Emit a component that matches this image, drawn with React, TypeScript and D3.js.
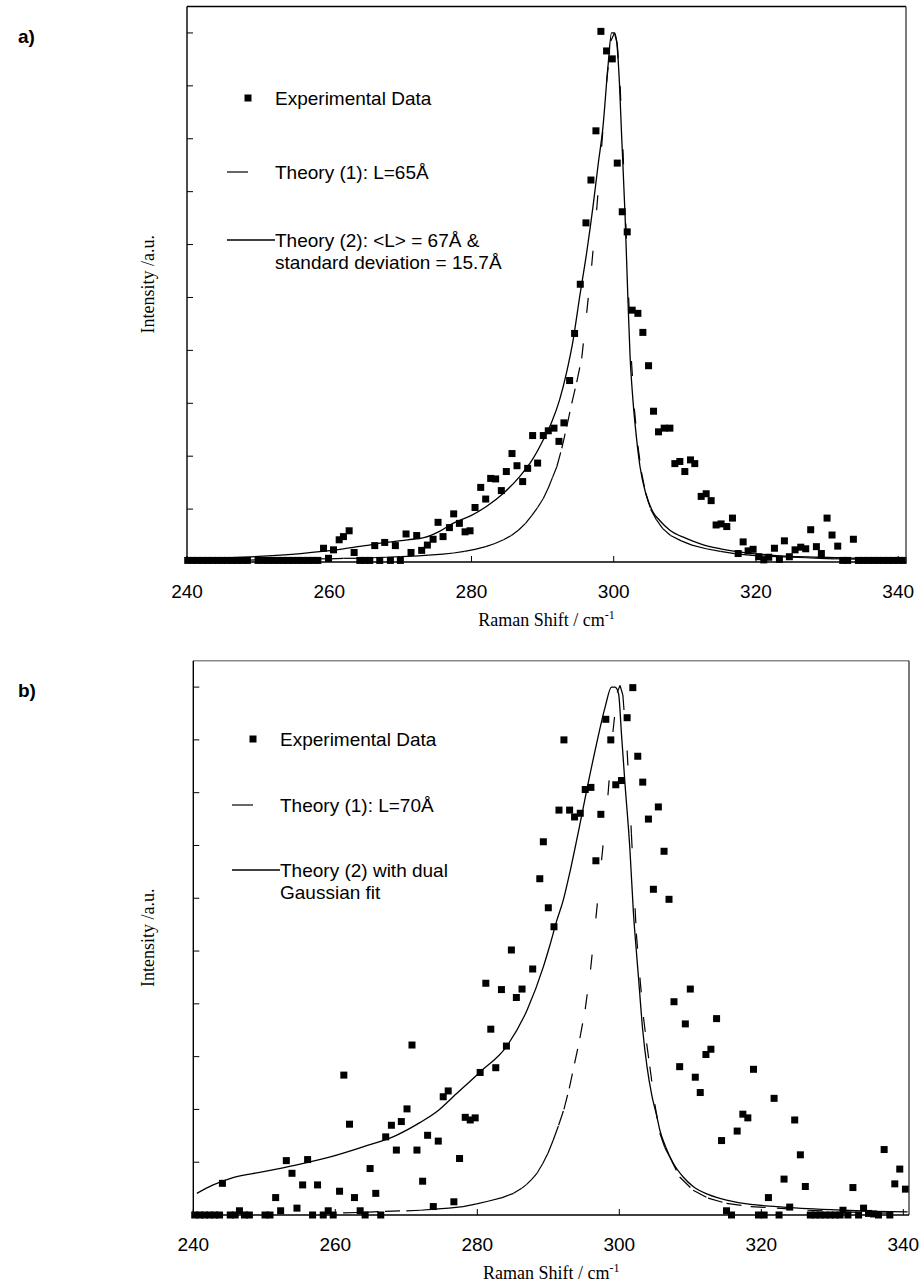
import React from "react";
import * as d3 from "d3";

const W = 920;
const H = 1285;

type Pt = [number, number];

// panel a: Raman shift (cm-1) vs intensity (a.u.)
const expA: Pt[] = [
  [240.1, 0.03], [240.8, 0.03], [241.5, 0.03], [242.2, 0.03], [242.9, 0.03], [243.6, 0.03], [244.3, 0.03],
  [245.0, 0.03], [245.7, 0.03], [246.4, 0.03], [247.1, 0.03], [247.8, 0.03], [248.5, 0.03],
  [250.0, 0.03], [250.7, 0.03], [251.4, 0.03], [252.1, 0.03], [252.8, 0.03], [253.5, 0.03], [254.2, 0.03],
  [254.9, 0.03], [255.6, 0.03], [256.3, 0.03], [257.0, 0.03], [257.7, 0.03], [258.4, 0.03],
  [259.2, 0.26], [259.9, 0.07], [260.6, 0.23], [261.4, 0.42], [262.0, 0.48], [262.8, 0.59], [263.5, 0.18],
  [264.3, 0.03], [265.0, 0.03], [265.7, 0.03], [266.4, 0.31], [267.1, 0.03], [267.8, 0.37], [268.6, 0.03],
  [269.3, 0.31], [270.0, 0.03], [270.8, 0.53], [271.5, 0.18], [272.3, 0.5], [273.0, 0.22], [273.8, 0.32],
  [274.6, 0.43], [275.3, 0.75], [276.0, 0.48], [276.9, 0.65], [277.5, 0.91], [278.3, 0.73], [279.1, 0.57],
  [279.8, 0.59], [280.5, 1.03], [281.3, 1.41], [282.0, 1.19], [282.7, 1.58], [283.4, 1.57], [284.2, 1.35],
  [284.9, 1.71], [285.7, 2.05], [286.4, 1.82], [287.2, 1.52], [287.9, 1.77], [288.6, 2.39], [289.3, 1.87],
  [290.1, 2.39], [290.8, 2.48], [291.6, 2.53], [292.3, 2.28], [293.0, 2.63], [293.8, 3.43], [294.5, 4.32],
  [295.3, 5.25], [296.1, 6.41], [296.8, 7.22], [297.5, 8.15], [298.2, 10.03], [299.0, 9.66], [299.8, 9.51],
  [300.5, 7.54], [301.2, 6.62], [301.9, 6.24], [302.6, 4.76], [303.4, 4.7], [304.1, 4.34], [304.9, 3.71],
  [305.6, 2.85], [306.3, 2.46], [307.1, 2.53], [307.9, 2.53], [308.6, 1.86], [309.3, 1.9], [310.0, 1.71],
  [310.8, 1.93], [311.4, 1.86], [312.3, 1.24], [313.0, 1.29], [313.7, 1.16], [314.4, 0.7], [315.1, 0.72],
  [315.9, 0.67], [316.7, 0.83], [317.5, 0.16], [318.2, 0.38], [318.9, 0.21], [319.6, 0.24], [320.4, 0.1],
  [321.1, 0.04], [321.8, 0.09], [322.6, 0.26], [323.3, 0.05], [324.0, 0.4], [324.7, 0.1], [325.5, 0.23],
  [326.3, 0.28], [327.0, 0.25], [327.7, 0.61], [328.5, 0.29], [329.2, 0.16], [330.0, 0.83], [330.7, 0.51],
  [331.5, 0.3], [332.2, 0.03], [332.9, 0.03], [333.7, 0.43], [334.4, 0.03], [335.1, 0.03], [335.8, 0.03],
  [336.5, 0.03], [337.2, 0.03], [337.9, 0.03], [338.6, 0.03], [339.3, 0.03], [340.0, 0.03], [340.7, 0.03],
];

const theory1A: Pt[] = [
  [240, 0.02], [242, 0.02], [244, 0.03], [246, 0.03], [248, 0.03], [250, 0.04], [252, 0.04], [254, 0.05],
  [256, 0.05], [258, 0.06], [260, 0.06], [262, 0.07], [264, 0.07], [266, 0.08], [268, 0.09], [270, 0.1],
  [272, 0.11], [274, 0.13], [276, 0.15], [277.5, 0.17], [279, 0.2], [280.5, 0.24], [282, 0.29], [283.3, 0.35],
  [284.5, 0.42], [285.6, 0.5], [286.6, 0.6], [287.6, 0.73], [288.5, 0.88], [289.3, 1.03], [290.1, 1.2],
  [290.8, 1.4], [291.4, 1.6], [292.0, 1.8], [292.7, 2.15], [293.4, 2.56], [294.1, 3.0], [294.8, 3.4],
  [295.5, 3.85], [296.2, 4.71], [296.9, 5.6], [297.6, 6.65], [298.3, 7.85], [299.0, 9.07], [299.6, 9.85],
  [300.1, 10.0], [300.5, 9.8], [300.9, 9.0], [301.3, 7.8], [301.7, 6.4], [302.1, 5.0], [302.5, 3.8],
  [302.9, 2.9], [303.4, 2.2], [303.9, 1.7], [304.5, 1.3], [305.2, 1.0], [306.0, 0.8], [306.9, 0.63],
  [308.0, 0.5], [309.5, 0.4], [311, 0.32], [313, 0.25], [315, 0.2], [317, 0.16], [319, 0.13], [321, 0.11],
  [323, 0.1], [325, 0.09], [327, 0.08], [329, 0.07], [331, 0.06], [333, 0.06], [335, 0.05], [337, 0.05],
  [339, 0.04], [341, 0.04],
];

const theory2A: Pt[] = [
  [240, 0.05], [244, 0.07], [248, 0.09], [252, 0.12], [256, 0.16], [259, 0.2], [262, 0.25], [265, 0.31],
  [268, 0.37], [271, 0.42], [273.3, 0.46], [275.5, 0.58], [277.4, 0.73], [280, 0.88], [282.1, 1.05],
  [284.5, 1.3], [286.8, 1.62], [288.5, 1.92], [290.1, 2.31], [291.3, 2.65], [292.4, 3.07], [293.4, 3.6],
  [294.3, 4.2], [295.2, 5.0], [296.2, 5.85], [297.1, 6.73], [297.8, 7.5], [298.5, 8.24], [299.2, 9.38],
  [299.7, 10.0], [300.1, 10.0], [300.4, 9.85], [300.8, 9.07], [301.1, 8.1], [301.6, 6.54], [302.0, 4.96],
  [302.3, 3.9], [302.7, 3.07], [303.2, 2.35], [303.7, 1.8], [304.5, 1.3], [305.5, 0.95], [306.5, 0.78],
  [307.9, 0.6], [310.1, 0.45], [312.5, 0.33], [315, 0.25], [317.1, 0.2], [321.9, 0.13], [328.9, 0.09],
  [335, 0.07], [341, 0.05],
];

// panel b
const expB: Pt[] = [
  [240.2, 0], [240.9, 0], [241.6, 0], [242.3, 0], [243.0, 0], [243.7, 0], [244.1, 0.6], [245.2, 0],
  [245.9, 0], [246.5, 0.08], [247.2, 0], [247.9, 0], [250.1, 0], [250.8, 0], [251.6, 0.33], [252.3, 0.08],
  [253.1, 1.03], [253.9, 0.79], [254.6, 0.13], [255.4, 0.57], [256.1, 1.05], [256.8, 0], [257.5, 0.57],
  [258.3, 0], [259.0, 0.08], [259.7, 0], [260.6, 0.45], [261.2, 2.65], [262.0, 1.72], [262.7, 0.33],
  [263.5, 0.08], [264.2, 0], [264.9, 0.88], [265.7, 0.41], [266.4, 0], [267.1, 1.48], [267.9, 1.7],
  [268.6, 1.23], [269.3, 1.77], [270.1, 2.01], [270.8, 3.22], [271.5, 1.23], [272.3, 0.64], [273.0, 1.51],
  [273.8, 0.16], [274.5, 1.4], [275.2, 2.24], [275.9, 2.35], [276.7, 0.25], [277.5, 1.07], [278.3, 1.85],
  [279.0, 1.8], [279.7, 1.84], [280.4, 2.7], [281.2, 4.39], [281.9, 3.52], [282.6, 2.79], [283.4, 4.27],
  [284.1, 3.2], [284.8, 5.02], [285.5, 4.12], [286.3, 4.28], [287.8, 4.66], [288.8, 6.37], [289.3, 7.07],
  [290.0, 5.82], [290.8, 5.46], [291.5, 7.67], [292.2, 9.0], [293.0, 7.67], [293.7, 7.54], [294.5, 7.61],
  [295.2, 8.06], [296.0, 8.1], [296.7, 6.71], [297.4, 7.59], [298.1, 9.39], [298.8, 9.0], [299.5, 8.15],
  [300.3, 8.23], [301.1, 9.42], [301.9, 9.99], [302.6, 8.69], [303.3, 8.2], [304.1, 7.5], [304.8, 6.17],
  [305.5, 7.73], [306.3, 6.89], [307.0, 5.98], [307.7, 4.04], [308.5, 2.81], [309.3, 3.62], [310.0, 4.28],
  [310.7, 2.61], [311.4, 2.32], [312.2, 3.04], [312.9, 3.14], [313.7, 3.72], [314.4, 1.41], [315.1, 0.08],
  [315.8, 0], [316.6, 1.59], [317.4, 1.91], [318.1, 1.84], [318.9, 2.76], [319.6, 0], [320.4, 0],
  [321.0, 0.33], [321.8, 2.21], [322.5, 0], [323.2, 0.68], [324.0, 0.15], [324.7, 1.8], [325.5, 1.14],
  [326.2, 0.54], [326.9, 0], [327.6, 0], [328.3, 0], [329.0, 0], [329.7, 0], [330.4, 0], [331.1, 0],
  [331.5, 0.09], [332.2, 0], [332.9, 0.52], [333.7, 0], [334.4, 0.13], [335.1, 0.03], [335.8, 0.02],
  [336.5, 0], [337.3, 1.24], [338.1, 0], [338.8, 0.59], [339.5, 0.87], [340.3, 0.49],
];

const theory1B: Pt[] = [
  [261.1, 0.04], [264, 0.05], [267, 0.07], [270, 0.08], [272, 0.09], [274, 0.11], [276, 0.13], [278, 0.16],
  [279.9, 0.21], [281.5, 0.26], [283.5, 0.33], [285.1, 0.41], [286.2, 0.5], [286.95, 0.58], [287.7, 0.68],
  [288.45, 0.8], [289.2, 0.97], [289.95, 1.17], [290.7, 1.42], [291.45, 1.7], [292.2, 2.0], [292.95, 2.4],
  [293.7, 2.87], [294.45, 3.35], [295.2, 3.9], [295.95, 4.65], [296.7, 5.62], [297.5, 6.72], [298.4, 7.95],
  [299.1, 9.15], [299.7, 9.9], [300.1, 10.03], [300.5, 9.85], [301.1, 8.8], [301.7, 7.23], [302.4, 5.33],
  [302.9, 4.5], [303.4, 3.75], [303.85, 3.25], [304.3, 2.81], [305.0, 2.1], [305.7, 1.55], [306.4, 1.28],
  [307.1, 1.1], [308.5, 0.72], [310.4, 0.47], [312.5, 0.32], [315.1, 0.22], [318.5, 0.16], [322.2, 0.13],
  [326.5, 0.09], [331.5, 0.06], [336, 0.04], [340.6, 0.03],
];

const theory2B: Pt[] = [
  [240.5, 0.41], [242.8, 0.57], [245.6, 0.71], [249.9, 0.82], [254.6, 0.95], [259.3, 1.1], [263.9, 1.29],
  [268.6, 1.51], [271.9, 1.75], [274.5, 1.98], [276.6, 2.24], [280.4, 2.71], [284.1, 3.19], [287.0, 3.88],
  [289.3, 4.7], [290.2, 5.1], [291.2, 5.58], [292.1, 5.96], [293.1, 6.53], [294.3, 7.3], [295.4, 8.04],
  [296.8, 8.93], [298.0, 9.62], [298.9, 10.0], [299.4, 10.0], [299.9, 9.87], [300.3, 9.12], [300.8, 8.17],
  [301.5, 6.91], [302.0, 5.7], [302.4, 5.0], [302.7, 4.5], [303.3, 3.5], [303.9, 2.81], [304.6, 2.25],
  [305.3, 1.86], [305.7, 1.61], [306.5, 1.3], [307.6, 0.98], [309, 0.72], [310.4, 0.54], [312.5, 0.39],
  [315.1, 0.28], [318.5, 0.2], [322.2, 0.16], [326.5, 0.12], [331.5, 0.09], [336, 0.07], [340.6, 0.06],
];

const xTicks = [240, 260, 280, 300, 320, 340];
const yTicks = [1, 2, 3, 4, 5, 6, 7, 8, 9, 10];

const legendA = ["Experimental Data", "Theory (1): L=65Å", "Theory (2): <L> = 67Å &", "standard deviation = 15.7Å"];
const legendB = ["Experimental Data", "Theory (1): L=70Å", "Theory (2) with dual", "Gaussian fit"];

const SANS = "'Liberation Sans', Arial, sans-serif";
const SERIF = "'Liberation Serif', 'Times New Roman', serif";

type Layout = {
  tag: string;
  xDomain: [number, number];
  left: number;
  right: number;
  top: number;
  bottom: number;
  topStroke: string;
  legendX: number;
  legendY: [number, number, number, number];
};

const layoutA: Layout = {
  tag: "a)",
  xDomain: [240, 341.1],
  left: 187,
  right: 906,
  top: 6.5,
  bottom: 562,
  topStroke: "#000",
  legendX: 275,
  legendY: [98, 172, 240, 262],
};

const layoutB: Layout = {
  tag: "b)",
  xDomain: [240, 340.8],
  left: 193.3,
  right: 909,
  top: 660.7,
  bottom: 1215,
  topStroke: "#888",
  legendX: 280,
  legendY: [739, 805, 870, 892],
};

function Panel({ L, exp, t1, t2, legend }: { L: Layout; exp: Pt[]; t1: Pt[]; t2: Pt[]; legend: string[] }) {
  const x = d3.scaleLinear().domain(L.xDomain).range([L.left, L.right]);
  const y = d3.scaleLinear().domain([0, 10.5]).range([L.bottom, L.top]);
  const line = d3
    .line<Pt>()
    .x((d) => x(d[0]))
    .y((d) => y(d[1]))
    .curve(d3.curveMonotoneX);
  const midX = (L.left + L.right) / 2;
  const midY = (L.top + L.bottom) / 2;
  const [ly0, ly1, ly2, ly3] = L.legendY;
  const lx = L.legendX;

  return (
    <g>
      <text x={18} y={L.top + 36} fontFamily={SANS} fontWeight="bold" fontSize={19}>
        {L.tag}
      </text>

      {/* curves */}
      <path d={line(t2) ?? ""} fill="none" stroke="#000" strokeWidth={1.3} />
      {d3.pairs(t1).map(([a, b], i) => (
        <line
          key={i}
          x1={x(a[0])}
          y1={y(a[1])}
          x2={x(b[0])}
          y2={y(b[1])}
          stroke="#000"
          strokeWidth={1.2}
          strokeDasharray="15 60"
        />
      ))}

      {/* markers */}
      {exp.map((d, i) => (
        <rect key={i} x={x(d[0]) - 3.5} y={y(d[1]) - 3.5} width={7} height={7} fill="#000" />
      ))}

      {/* frame */}
      <line x1={L.left} y1={L.top} x2={L.right} y2={L.top} stroke={L.topStroke} strokeWidth={1.4} />
      <line x1={L.right} y1={L.top} x2={L.right} y2={L.bottom} stroke="#333" strokeWidth={1.3} />
      <line x1={L.left} y1={L.top} x2={L.left} y2={L.bottom} stroke="#000" strokeWidth={1.4} />
      <line x1={L.left} y1={L.bottom} x2={L.right} y2={L.bottom} stroke="#000" strokeWidth={1.4} />

      {yTicks.map((t) => (
        <line key={t} x1={L.left} x2={L.left + 6} y1={y(t)} y2={y(t)} stroke="#000" strokeWidth={1} />
      ))}
      {xTicks.map((t) => (
        <g key={t}>
          <line x1={x(t)} x2={x(t)} y1={L.bottom} y2={L.bottom - 6} stroke="#000" strokeWidth={1} />
          <text x={x(t)} y={L.bottom + 36} textAnchor="middle" fontFamily={SANS} fontSize={19}>
            {t}
          </text>
        </g>
      ))}

      <text x={midX} y={L.bottom + 64} textAnchor="middle" fontFamily={SERIF} fontSize={18}>
        Raman Shift / cm
        <tspan dy={-7} fontSize={12}>
          -1
        </tspan>
      </text>
      <text
        transform={`translate(154,${midY}) rotate(-90)`}
        textAnchor="middle"
        fontFamily={SERIF}
        fontSize={18}
      >
        Intensity /a.u.
      </text>

      {/* legend */}
      <rect x={lx - 30.5} y={ly0 - 3.5} width={7} height={7} fill="#000" />
      <text x={lx} y={ly0 + 7} fontFamily={SANS} fontSize={19}>
        {legend[0]}
      </text>
      <line x1={lx - 48} x2={lx - 27} y1={ly1} y2={ly1} stroke="#000" strokeWidth={1.2} />
      <text x={lx} y={ly1 + 7} fontFamily={SANS} fontSize={19}>
        {legend[1]}
      </text>
      <line x1={lx - 48} x2={lx} y1={ly2} y2={ly2} stroke="#000" strokeWidth={1.3} />
      <text x={lx} y={ly2 + 7} fontFamily={SANS} fontSize={19}>
        {legend[2]}
      </text>
      <text x={lx} y={ly3 + 7} fontFamily={SANS} fontSize={19}>
        {legend[3]}
      </text>
    </g>
  );
}

export default function App() {
  return (
    <svg
      width={W}
      height={H}
      viewBox={`0 0 ${W} ${H}`}
      style={{ position: "absolute", left: 0, top: 0, background: "#fff" }}
    >
      <rect width={W} height={H} fill="#fff" />
      <Panel L={layoutA} exp={expA} t1={theory1A} t2={theory2A} legend={legendA} />
      <Panel L={layoutB} exp={expB} t1={theory1B} t2={theory2B} legend={legendB} />
    </svg>
  );
}
